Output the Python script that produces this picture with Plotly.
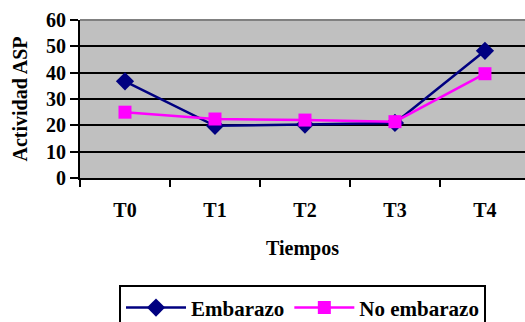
import plotly.graph_objects as go

# Actividad ASP por tiempo de muestreo
tiempos = ["T0", "T1", "T2", "T3", "T4"]
embarazo = [36.7, 19.8, 20.3, 20.9, 48.3]
no_embarazo = [25.0, 22.4, 22.0, 21.4, 39.6]
y_ticks = [0, 10, 20, 30, 40, 50, 60]

font_family = "Liberation Serif"

fig = go.Figure()
fig.add_trace(go.Scatter(
    x=tiempos, y=embarazo, name="<b>Embarazo</b>", mode="lines+markers",
    line=dict(color="#000080", width=2.5),
    marker=dict(symbol="diamond", size=14, color="#000080"),
))
fig.add_trace(go.Scatter(
    x=tiempos, y=no_embarazo, name="<b>No embarazo</b>", mode="lines+markers",
    line=dict(color="#FF00FF", width=2.5),
    marker=dict(symbol="square", size=13, color="#FF00FF"),
))

# plot-area border along the top edge
fig.add_shape(type="line", xref="paper", yref="paper", x0=0, x1=1, y0=1, y1=1,
              line=dict(color="#808080", width=2), layer="above")

fig.update_layout(
    width=525, height=322,
    margin=dict(l=80, r=0, t=20, b=144, autoexpand=False),
    paper_bgcolor="white",
    plot_bgcolor="#C0C0C0",
    font=dict(family=font_family, size=20, color="black"),
    showlegend=True,
    legend=dict(
        orientation="h", x=0.5, xanchor="center", y=-0.68, yanchor="top",
        bordercolor="black", borderwidth=2, bgcolor="white",
        font=dict(family=font_family, size=21, color="black"),
        itemwidth=60, tracegroupgap=0,
    ),
    xaxis=dict(
        type="category", range=[-0.5, 4.445], tickson="boundaries",
        tickvals=tiempos, ticktext=[f"<b>{t}</b>" for t in tiempos],
        ticks="outside", ticklen=7, tickwidth=2, tickcolor="black",
        ticklabelstandoff=13,
        showline=True, linecolor="black", linewidth=2,
        showgrid=False, automargin=False,
        tickfont=dict(family=font_family, size=20),
        title=dict(text="<b>Tiempos</b>", standoff=21,
                   font=dict(family=font_family, size=20)),
    ),
    yaxis=dict(
        range=[0, 60], tickvals=y_ticks,
        ticktext=[f"<b>{v}</b>" for v in y_ticks],
        ticks="outside", ticklen=8, tickwidth=2, tickcolor="black",
        showline=True, linecolor="black", linewidth=2,
        showgrid=True, gridcolor="black", gridwidth=2,
        zeroline=False, automargin=False,
        tickfont=dict(family=font_family, size=20),
        title=dict(text="<b>Actividad ASP</b>", standoff=13,
                   font=dict(family=font_family, size=20)),
    ),
)

fig.write_html("out.html")
